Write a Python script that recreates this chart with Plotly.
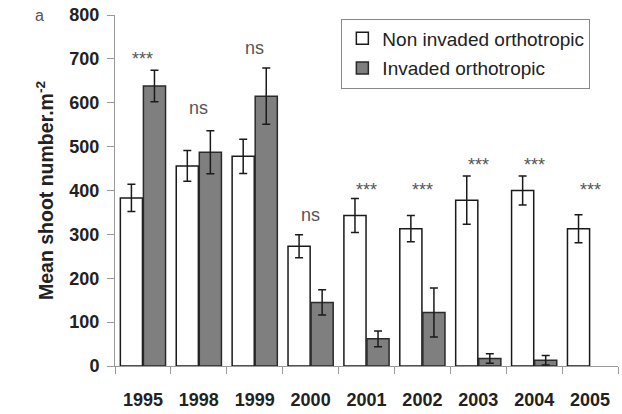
import plotly.graph_objects as go

years = ["1995", "1998", "1999", "2000", "2001", "2002", "2003", "2004", "2005"]
non_invaded = [383, 456, 478, 273, 343, 313, 378, 400, 313]
non_invaded_err = [31, 35, 39, 26, 39, 30, 55, 33, 32]
invaded = [638, 487, 615, 145, 62, 122, 17, 13, None]
invaded_err = [36, 49, 64, 29, 18, 56, 11, 11, None]
signif = ["***", "ns", "ns", "ns", "***", "***", "***", "***", "***"]
signif_y = [708, 583, 721, 339, 411, 411, 468, 468, 411]

FONT = "Liberation Sans, Arial"

fig = go.Figure()
fig.add_trace(go.Bar(
    x=years, y=non_invaded, name="Non invaded orthotropic", legendgroup="a",
    marker=dict(color="white", line=dict(color="#1a1a1a", width=1.5)),
    error_y=dict(type="data", array=non_invaded_err, color="#1a1a1a", thickness=1.5, width=4),
))
fig.add_trace(go.Bar(
    x=years, y=invaded, name="Invaded orthotropic", legendgroup="b",
    marker=dict(color="#7f7f7f", line=dict(color="#2a2a2a", width=1.5)),
    error_y=dict(type="data", array=invaded_err, color="#1a1a1a", thickness=1.5, width=4),
))

for i, (s, sy) in enumerate(zip(signif, signif_y)):
    if s == "ns":
        fig.add_annotation(x=i, y=sy, text=s, showarrow=False, yanchor="middle", yshift=2,
                           font=dict(size=18, color="#555", family=FONT))
    else:
        fig.add_annotation(x=i, y=sy, text=s, showarrow=False, yanchor="middle", yshift=-4,
                           font=dict(size=18, color="#555", family=FONT))

fig.add_annotation(x=-0.15, y=1.0, xref="paper", yref="paper", text="a", showarrow=False,
                   xanchor="center", yanchor="middle",
                   font=dict(size=16, color="#555", family=FONT))

fig.update_layout(
    width=622, height=414,
    margin=dict(l=115, r=4, t=15, b=44),
    paper_bgcolor="white", plot_bgcolor="white",
    barmode="group", bargap=0.175, bargroupgap=0.04,
    font=dict(family=FONT, color="#222"),
    showlegend=True,
    legend=dict(x=0.45, y=0.99, xanchor="left", yanchor="top",
                bordercolor="#888", borderwidth=1, bgcolor="white",
                font=dict(size=19, color="#222"), tracegroupgap=2, traceorder="grouped"),
    xaxis=dict(type="category", showline=True, linecolor="#999", linewidth=1,
               ticks="outside", tickson="boundaries", ticklen=7, tickcolor="#999",
               tickfont=dict(size=18, color="#222", family=FONT, weight="bold"),
               ticklabelstandoff=17, showgrid=False, range=[-0.5, 8.5]),
    yaxis=dict(range=[0, 800], dtick=100, showline=True, linecolor="#999", linewidth=1,
               ticks="outside", ticklen=7, tickcolor="#999", showgrid=False, zeroline=False,
               tickfont=dict(size=18, color="#222", family=FONT, weight="bold"),
               ticklabelstandoff=4,
               title=dict(text="Mean shoot number.m<sup>-2</sup>", standoff=10,
                          font=dict(size=19.5, color="#222", family=FONT, weight="bold"))),
)

fig.write_html("out.html", config={"displayModeBar": False},
               post_script="document.body.style.margin='0';")
